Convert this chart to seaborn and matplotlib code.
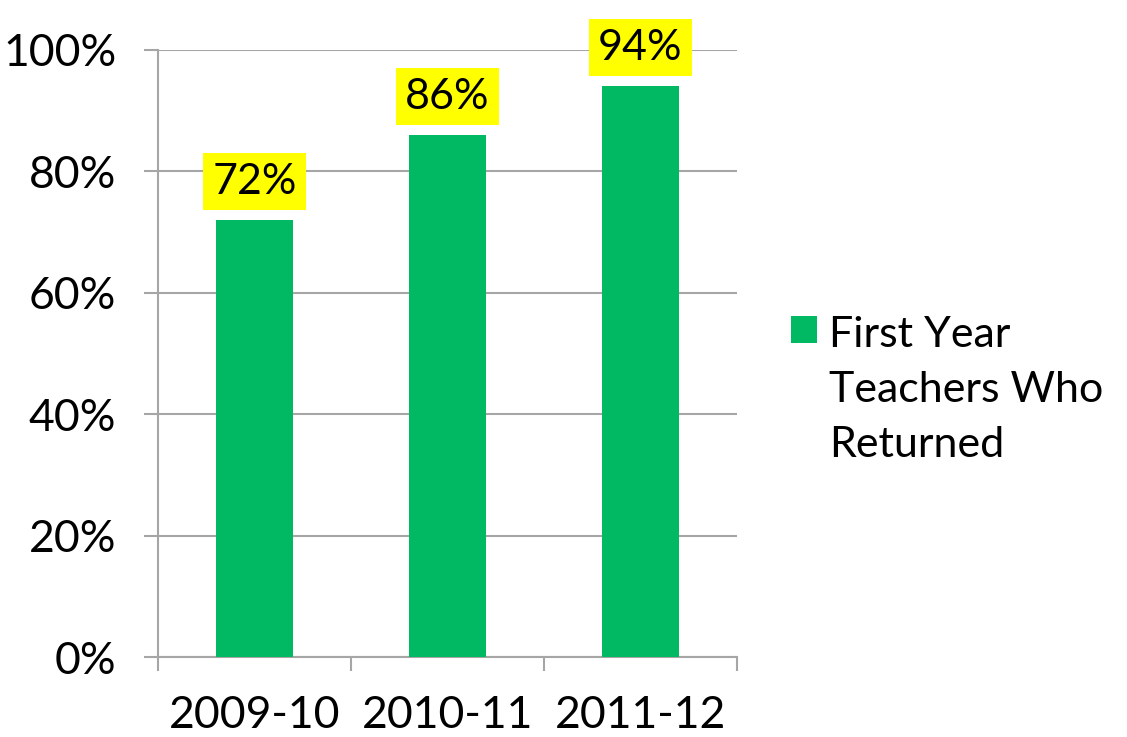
import matplotlib
matplotlib.use("Agg")
import matplotlib.pyplot as plt
import seaborn as sns
import pandas as pd
from matplotlib.ticker import FixedLocator, PercentFormatter

years = ["2009-10", "2010-11", "2011-12"]
returned = [72, 86, 94]
series_name = "First Year\nTeachers Who\nReturned"
y_ticks = [0, 20, 40, 60, 80, 100]

GREEN = "#00B962"
GRID = "#A6A6A6"
FONT = "Lato"

sns.set_theme(style="white")
plt.rcParams["font.family"] = [FONT, "DejaVu Sans"]
plt.rcParams["text.color"] = "black"

df = pd.DataFrame({"year": years, "value": returned})

fig = plt.figure(figsize=(11.27, 7.37), dpi=100)
ax = fig.add_axes([0.1402, 0.1085, 0.5137, 0.8237])

sns.barplot(data=df, x="year", y="value", color=GREEN, width=0.4,
            saturation=1, ax=ax, label=series_name, zorder=3, linewidth=0)

ax.set_xlim(-0.5, 2.5)
ax.set_ylim(0, 100)
ax.set_yticks(y_ticks)
ax.yaxis.set_major_formatter(PercentFormatter(decimals=0))
ax.grid(axis="y", color=GRID, linewidth=1.5, zorder=0)
ax.set_axisbelow(True)

for s in ["top", "right"]:
    ax.spines[s].set_visible(False)
for s in ["left", "bottom"]:
    ax.spines[s].set_color(GRID)
    ax.spines[s].set_linewidth(1.5)

ax.tick_params(axis="y", which="major", direction="out", length=10, width=1.5,
               color=GRID, left=True, pad=20, labelsize=32, labelcolor="black")
ax.xaxis.set_minor_locator(FixedLocator([-0.5, 0.5, 1.5, 2.5]))
ax.tick_params(axis="x", which="minor", direction="out", length=10, width=1.5,
               color=GRID, bottom=True)
ax.tick_params(axis="x", which="major", length=0, pad=27, labelsize=32,
               labelcolor="black")
ax.set_xlabel("")
ax.set_ylabel("")

for c in ax.containers:
    ax.bar_label(c, labels=[f"{v}%" for v in returned], padding=14,
                 fontsize=31, color="black",
                 bbox=dict(boxstyle="square,pad=0.22", facecolor="#FFFF00",
                           edgecolor="none"))

leg = ax.legend(loc="upper left", bbox_to_anchor=(1.064, 0.59), frameon=False,
                fontsize=31, handlelength=0.6, handleheight=0.6,
                handletextpad=0.28, borderaxespad=0, labelcolor="black")
for t in leg.get_texts():
    t.set_linespacing(1.55)
for hp in leg._legend_handle_box.get_children():
    for row in hp.get_children():
        row.align = "top"

fig.savefig("out.png", dpi=100)
